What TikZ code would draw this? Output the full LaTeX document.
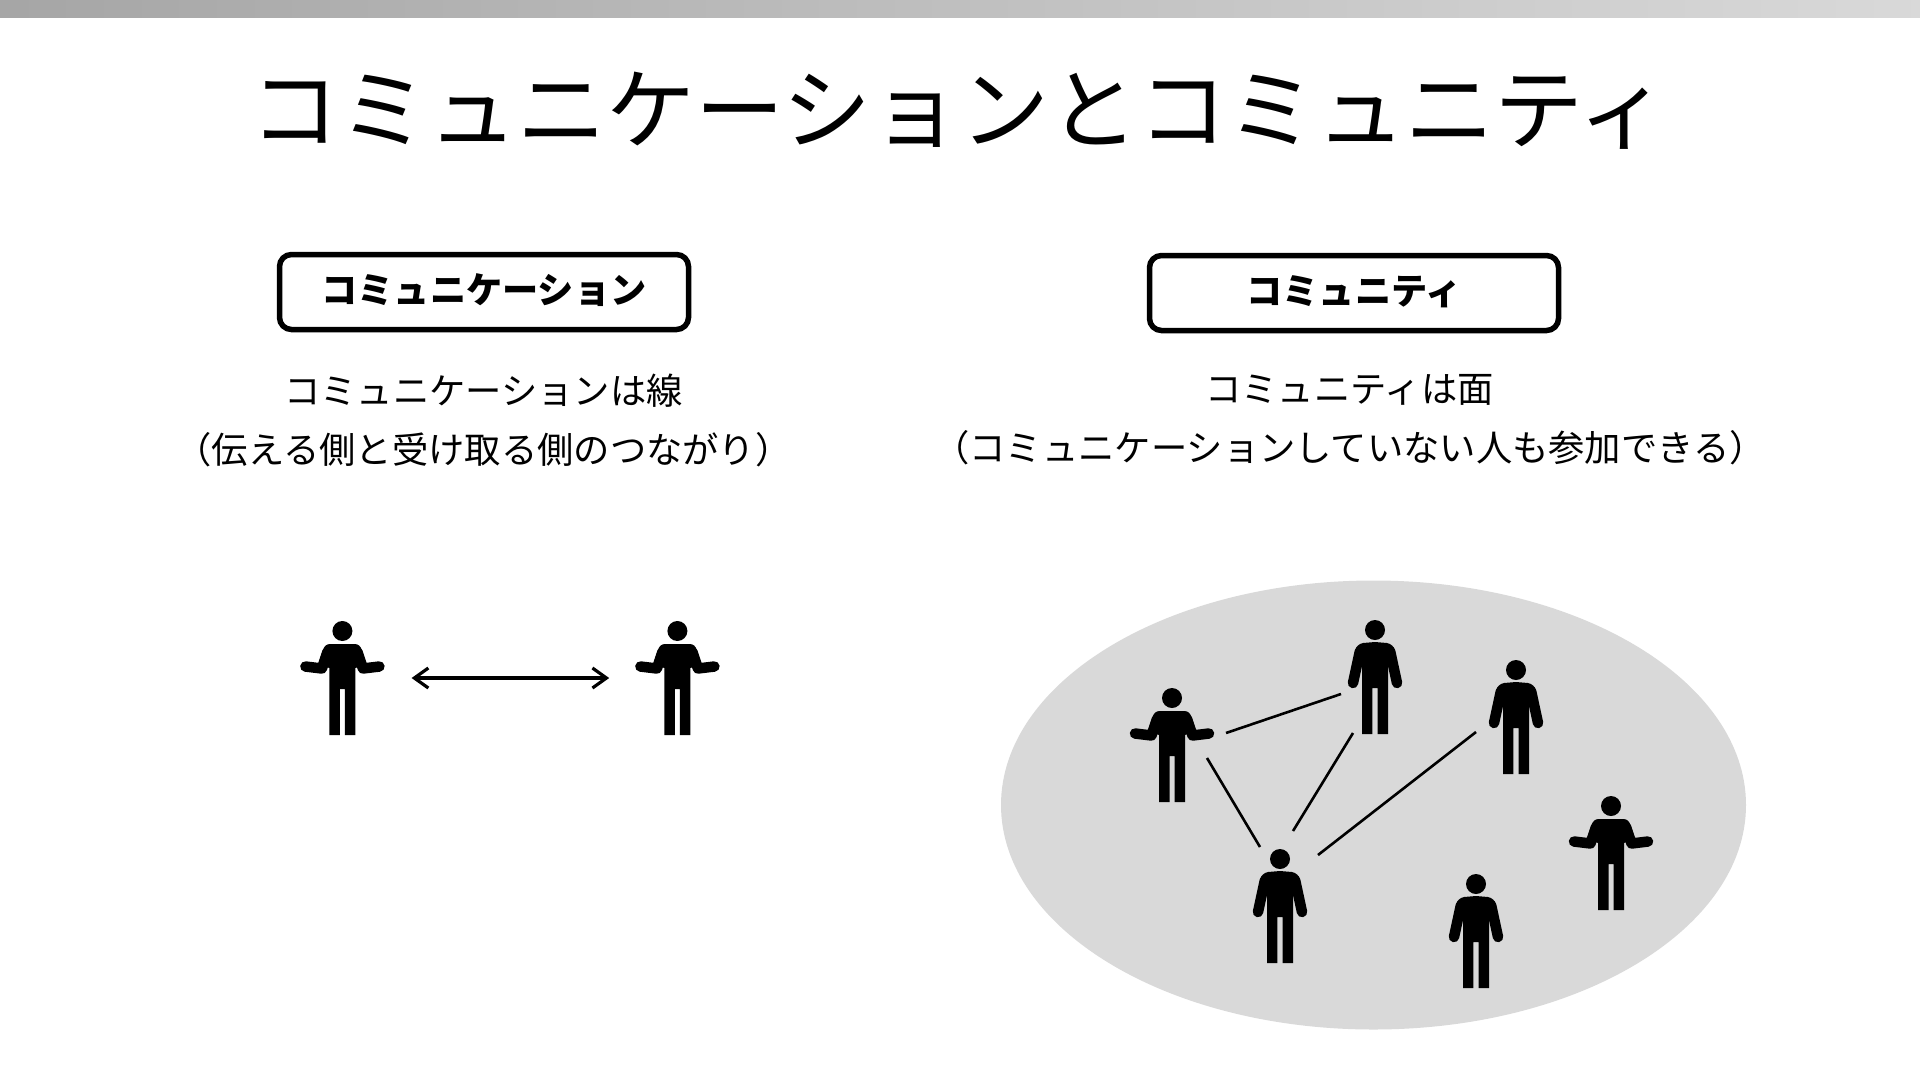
\documentclass[tikz,border=0pt]{standalone}
\usepackage{fontspec}
\setmainfont{Noto Sans CJK JP}
\usetikzlibrary{arrows.meta, shapes.geometric}
\tikzset{
  personbox/.style={draw=none, rectangle, inner sep=0pt, minimum width=90, minimum height=116},
  armline/.style={line width=10.5pt, line cap=round, line join=round},
  shrugman/.style={personbox, path picture={
    \fill (0,-47) circle (10);
    \fill (0,-34) -- (12,-34) .. controls (16,-34) and (18,-32) .. (19.5,-28) -- (24,-14) -- (13,-10)
      -- (13,57) -- (2.5,57) -- (2.5,11) -- (-2.5,11) -- (-2.5,57) -- (-13,57) -- (-13,-10) -- (-24,-14)
      -- (-19.5,-28) .. controls (-18,-32) and (-16,-34) .. (-12,-34) -- cycle;
    \draw[armline] (15,-26) -- (20.5,-9.5) -- (37,-11.5);
    \draw[armline] (-15,-26) -- (-20.5,-9.5) -- (-37,-11.5);
  }},
  standman/.style={personbox, path picture={
    \fill (0,-47) circle (10);
    \fill (0,-35) -- (12,-34) .. controls (16,-33) and (18.5,-31) .. (20,-27) -- (13,-10)
      -- (13,57) -- (2.7,57) -- (2.7,11) -- (-2.7,11) -- (-2.7,57) -- (-13,57) -- (-13,-10) -- (-20,-27)
      .. controls (-18.5,-31) and (-16,-33) .. (-12,-34) -- cycle;
    \draw[armline] (15.2,-25.5) -- (22,6);
    \draw[armline] (-15.2,-25.5) -- (-22,6);
  }},
  headbox/.style={draw=black, line width=5.5pt, rounded corners=12pt, inner sep=0pt,
    minimum width=409, minimum height=75, text height=30pt, text depth=7.4pt,
    font=\fontsize{36.2}{40}\selectfont\bfseries},
  desctext/.style={align=center, inner sep=0pt, font=\fontsize{36.3}{59}\selectfont},
  linkline/.style={line width=2.6pt, black},
  talkarrow/.style={line width=3.2pt, {Straight Barb[length=14pt,width=20pt]}-{Straight Barb[length=14pt,width=20pt]}, shorten <=24pt, shorten >=23pt}
}

\begin{document}
\begin{tikzpicture}[x=1pt, y=-1pt]
    \useasboundingbox (0,0) rectangle (1920,1080);
    \fill[left color=black!35, right color=black!15] (0,0) rectangle (1920,17.5);
    \node[inner sep=0pt, font=\fontsize{89}{96}\selectfont] (maintitle) at (959,110.5) {コミュニケーションとコミュニティ};

    % left side
    \node[headbox] (commbox) at (484,292) {コミュニケーション};
    \node[desctext] (commtext) at (483.5,420) {コミュニケーションは線\\（伝える側と受け取る側のつながり）};
    \node[shrugman] (talkA) at (342.4,678) {};
    \node[shrugman] (talkB) at (677.4,678) {};
    \draw[talkarrow] (talkA.east) -- (talkB.west);

    % right side
    \node[headbox] (unitybox) at (1354,293) {コミュニティ};
    \node[desctext] (unitytext) at (1349.5,420) {コミュニティは面\\（コミュニケーションしていない人も参加できる）};
    \node[draw=none, ellipse, fill={rgb,255:red,217;green,217;blue,217}, inner sep=0pt, minimum width=745, minimum height=449] (area) at (1373.5,805) {};
    \node[shrugman] (memberA) at (1172,745) {};
    \node[standman] (memberB) at (1375,677) {};
    \node[standman] (memberC) at (1516,717) {};
    \node[standman] (memberD) at (1280,906) {};
    \node[standman] (memberE) at (1476,931) {};
    \node[shrugman] (memberF) at (1611,853) {};
    \draw[linkline] ([shift={(54,-12)}]memberA.center) -- ([shift={(-34,17)}]memberB.center);
    \draw[linkline] ([shift={(35,13)}]memberA.center) -- ([shift={(-20,-59)}]memberD.center);
    \draw[linkline] ([shift={(-22,56)}]memberB.center) -- ([shift={(13,-75)}]memberD.center);
    \draw[linkline] ([shift={(-40,15)}]memberC.center) -- ([shift={(38,-51)}]memberD.center);
\end{tikzpicture}
\end{document}
